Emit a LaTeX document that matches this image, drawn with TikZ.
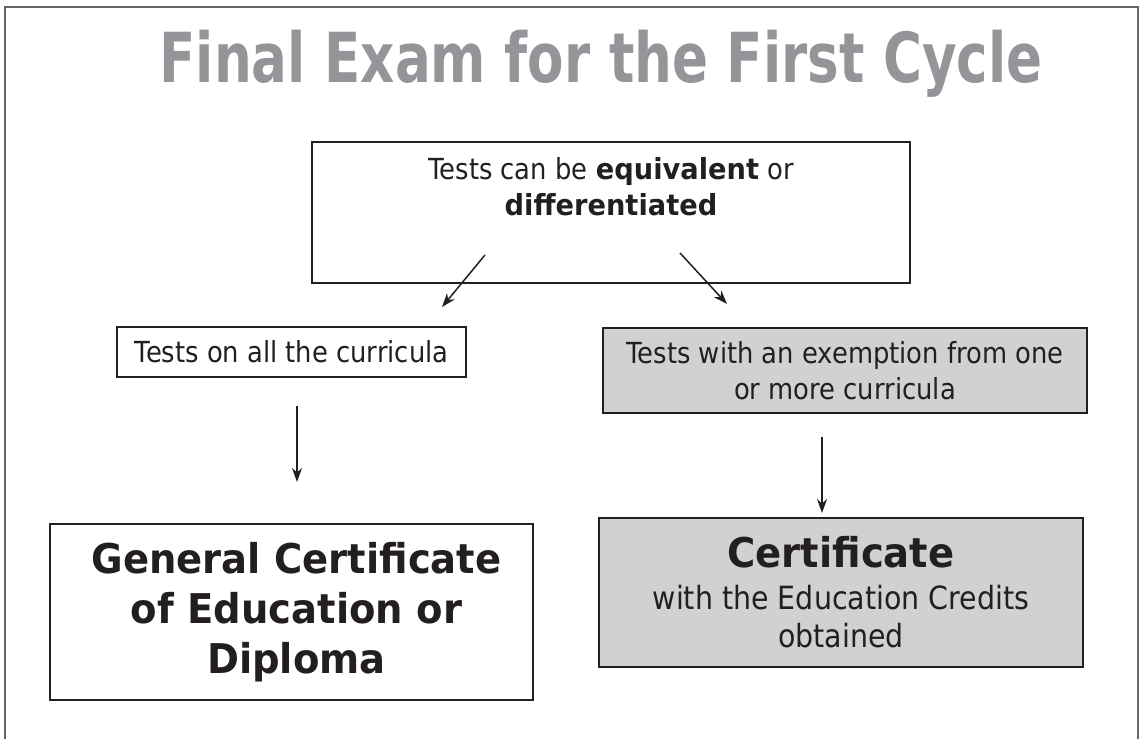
\documentclass[tikz,border=0pt]{standalone}
\usepackage{fontspec}
\setmainfont{DejaVu Sans}[FakeStretch=0.89,BoldFeatures={FakeStretch=0.94}]
\newfontfamily\titlefont{DejaVu Sans}[FakeStretch=0.77,BoldFeatures={FakeStretch=0.77}]
\usetikzlibrary{arrows.meta}
\definecolor{boxgrey}{RGB}{208,209,211}
\definecolor{titlegrey}{RGB}{148,149,153}
\definecolor{ink}{RGB}{35,31,32}

\begin{document}
\begin{tikzpicture}[x=1pt,y=-1pt,->,>={Stealth[length=14pt,width=10pt]},line width=1.5pt,color=ink,
    box node/.style={rectangle,draw,line width=1.6pt,inner sep=0pt,align=center,font=\fontsize{29}{36}\selectfont},
    grey node/.style={box node,fill=boxgrey},
    big node/.style={box node,font=\fontsize{41}{50}\selectfont\bfseries}]

\useasboundingbox (0,0) rectangle (1143,739);
\draw[-,line width=2pt,black!60] (5,739) -- (5,7) -- (1138,7) -- (1138,739);

\node[font=\fontsize{69}{80}\titlefont\bfseries,text=titlegrey,anchor=base] (title) at (601,82) {Final Exam for the First Cycle};

\node[box node,minimum width=598pt,minimum height=141pt] (top) at (611,212.5) {};
\node[anchor=north,inner sep=0pt,align=center,font=\fontsize{29}{36}\selectfont] (toptext) at (611,157) {Tests can be \textbf{equivalent} or\\\textbf{differentiated}};

\node[box node,minimum width=349pt,minimum height=50pt] (all) at (291.5,352) {Tests on all the curricula};
\node[grey node,minimum width=484pt,minimum height=85pt] (exempt) at (845,370.5) {Tests with an exemption from one\\or more curricula};

\node[big node,minimum width=483pt,minimum height=176pt] (diploma) at (291.5,612) {\hspace*{10pt}General Certificate\\\hspace*{10pt}of Education or\\\hspace*{10pt}Diploma};
\node[grey node,minimum width=484pt,minimum height=149pt,font=\fontsize{32}{38}\selectfont] (cert) at (841,592.5) {{\fontsize{41}{42}\selectfont\bfseries Certificate}\\[4pt]with the Education Credits\\obtained};

\coordinate (top l) at (485,255);
\coordinate (all in) at (442,307);
\coordinate (top r) at (680,253);
\coordinate (exempt in) at (727,304);
\coordinate (all out) at (297,406);
\coordinate (diploma in) at (297,482);
\coordinate (exempt out) at (822,437);
\coordinate (cert in) at (822,513);

\path
(top l) edge (all in)
(top r) edge (exempt in)
(all out) edge (diploma in)
(exempt out) edge (cert in)
;
\end{tikzpicture}
\end{document}
